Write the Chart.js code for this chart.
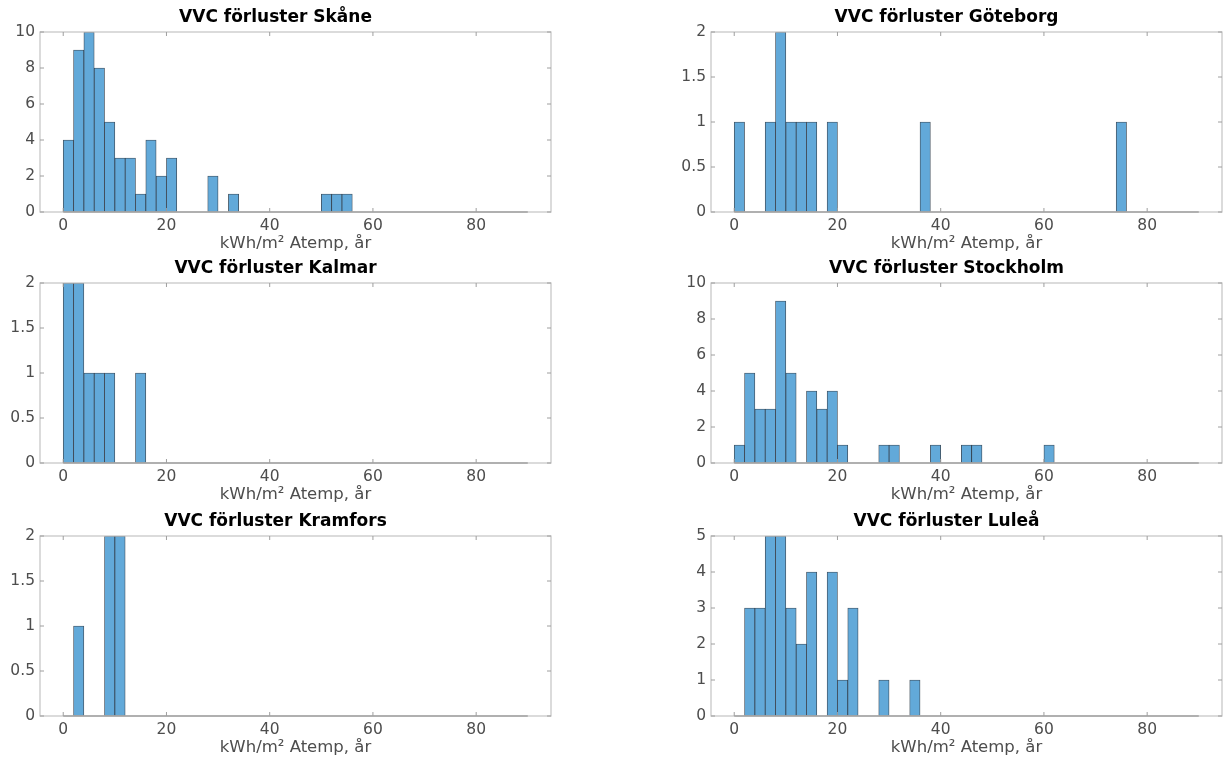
<!DOCTYPE html>
<html>
<head>
<meta charset="utf-8">
<script src="https://cdn.jsdelivr.net/npm/chart.js@4.4.0/dist/chart.umd.min.js"></script>
<style>
  body { margin: 0; background: #fff; width: 1227px; height: 762px; overflow: hidden; position: relative; }
  canvas { position: absolute; }
</style>
</head>
<body>
<canvas id="skane"></canvas>
<canvas id="goteborg"></canvas>
<canvas id="kalmar"></canvas>
<canvas id="stockholm"></canvas>
<canvas id="kramfors"></canvas>
<canvas id="lulea"></canvas>
<script>
// histogram bins, 2 kWh/m2 wide, left edges
const binStart = [0, 2, 4, 6, 8, 10, 12, 14, 16, 18, 20, 22, 24, 26, 28,
                  30, 32, 34, 36, 38, 40, 42, 44, 46, 48, 50, 52, 54, 56, 58,
                  60, 62, 64, 66, 68, 70, 72, 74, 76, 78, 80, 82, 84, 86, 88];
const binWidth = 2;

// number of buildings per bin
const skane     = [4, 9, 10, 8, 5, 3, 3, 1, 4, 2, 3, 0, 0, 0, 2,
                   0, 1, 0, 0, 0, 0, 0, 0, 0, 0, 1, 1, 1, 0, 0,
                   0, 0, 0, 0, 0, 0, 0, 0, 0, 0, 0, 0, 0, 0, 0];
const goteborg  = [1, 0, 0, 1, 2, 1, 1, 1, 0, 1, 0, 0, 0, 0, 0,
                   0, 0, 0, 1, 0, 0, 0, 0, 0, 0, 0, 0, 0, 0, 0,
                   0, 0, 0, 0, 0, 0, 0, 1, 0, 0, 0, 0, 0, 0, 0];
const kalmar    = [2, 2, 1, 1, 1, 0, 0, 1, 0, 0, 0, 0, 0, 0, 0,
                   0, 0, 0, 0, 0, 0, 0, 0, 0, 0, 0, 0, 0, 0, 0,
                   0, 0, 0, 0, 0, 0, 0, 0, 0, 0, 0, 0, 0, 0, 0];
const stockholm = [1, 5, 3, 3, 9, 5, 0, 4, 3, 4, 1, 0, 0, 0, 1,
                   1, 0, 0, 0, 1, 0, 0, 1, 1, 0, 0, 0, 0, 0, 0,
                   1, 0, 0, 0, 0, 0, 0, 0, 0, 0, 0, 0, 0, 0, 0];
const kramfors  = [0, 1, 0, 0, 2, 2, 0, 0, 0, 0, 0, 0, 0, 0, 0,
                   0, 0, 0, 0, 0, 0, 0, 0, 0, 0, 0, 0, 0, 0, 0,
                   0, 0, 0, 0, 0, 0, 0, 0, 0, 0, 0, 0, 0, 0, 0];
const lulea     = [0, 3, 3, 5, 5, 3, 2, 4, 0, 4, 1, 3, 0, 0, 1,
                   0, 0, 1, 0, 0, 0, 0, 0, 0, 0, 0, 0, 0, 0, 0,
                   0, 0, 0, 0, 0, 0, 0, 0, 0, 0, 0, 0, 0, 0, 0];

// tick labels
const xTicks = [0, 20, 40, 60, 80];
const yTicksTen = [0, 2, 4, 6, 8, 10];
const yTicksTwo = [0, 0.5, 1, 1.5, 2];
const yTicksFive = [0, 1, 2, 3, 4, 5];

const xLabel = 'kWh/m² Atemp, år';

const panels = [
  { id: 'skane',     title: 'VVC förluster Skåne',     counts: skane,     yTicks: yTicksTen,  left: 40,  top: 32 },
  { id: 'goteborg',  title: 'VVC förluster Göteborg',  counts: goteborg,  yTicks: yTicksTwo,  left: 711, top: 32 },
  { id: 'kalmar',    title: 'VVC förluster Kalmar',    counts: kalmar,    yTicks: yTicksTwo,  left: 40,  top: 283 },
  { id: 'stockholm', title: 'VVC förluster Stockholm', counts: stockholm, yTicks: yTicksTen,  left: 711, top: 283 },
  { id: 'kramfors',  title: 'VVC förluster Kramfors',  counts: kramfors,  yTicks: yTicksTwo,  left: 40,  top: 536 },
  { id: 'lulea',     title: 'VVC förluster Luleå',     counts: lulea,     yTicks: yTicksFive, left: 711, top: 536 }
];

const font = 'DejaVu Sans';

// box around the axes with small inward ticks on all four sides,
// plus the zero line under the empty bins
const axesBox = {
  id: 'axesBox',
  afterDatasetsDraw(chart) {
    const { ctx, chartArea: { left, right, top, bottom }, scales: { x, y } } = chart;
    ctx.save();
    ctx.strokeStyle = '#c4c4c4';
    ctx.lineWidth = 1.2;
    ctx.strokeRect(left, top, right - left, bottom - top);

    ctx.strokeStyle = '#9e9e9e';
    ctx.lineWidth = 1;
    ctx.beginPath();
    x.ticks.forEach(t => {
      const px = x.getPixelForValue(t.value);
      ctx.moveTo(px, bottom); ctx.lineTo(px, bottom - 4);
      ctx.moveTo(px, top); ctx.lineTo(px, top + 4);
    });
    y.ticks.forEach(t => {
      const py = y.getPixelForValue(t.value);
      ctx.moveTo(left, py); ctx.lineTo(left + 4, py);
      ctx.moveTo(right, py); ctx.lineTo(right - 4, py);
    });
    ctx.stroke();

    ctx.strokeStyle = '#a2a2a2';
    ctx.lineWidth = 1.6;
    ctx.beginPath();
    ctx.moveTo(x.getPixelForValue(binStart[0]), y.getPixelForValue(0));
    ctx.lineTo(x.getPixelForValue(binStart[binStart.length - 1] + binWidth), y.getPixelForValue(0));
    ctx.stroke();
    ctx.restore();
  }
};

const drawHistogram = (p) => {
  const canvas = document.getElementById(p.id);
  canvas.width = 555;
  canvas.height = 257;
  canvas.style.left = (p.left - 40) + 'px';
  canvas.style.top = (p.top - 32) + 'px';

  new Chart(canvas, {
    type: 'bar',
    data: {
      datasets: [{
        data: binStart.map((b, i) => ({ x: b + binWidth / 2, y: p.counts[i] })),
        backgroundColor: '#62a9d9',
        borderColor: 'rgba(28, 42, 56, 0.85)',
        borderWidth: 0.8,
        borderSkipped: false,
        barPercentage: 1,
        categoryPercentage: 1
      }]
    },
    options: {
      responsive: false,
      animation: false,
      devicePixelRatio: 1,
      layout: { padding: { left: 0, right: 4, top: 0, bottom: 0 } },
      plugins: {
        legend: { display: false },
        tooltip: { enabled: false },
        title: {
          display: true,
          text: p.title,
          color: '#000',
          font: { family: font, size: 17, weight: 'bold' },
          padding: { top: 7, bottom: 4.6 }
        }
      },
      scales: {
        x: {
          type: 'linear',
          offset: false,
          min: -4.5,
          max: 94.5,
          grid: { display: false, drawTicks: false },
          border: { display: false },
          afterBuildTicks: s => { s.ticks = xTicks.map(v => ({ value: v })); },
          afterFit: s => { s.height = 45; },
          ticks: {
            color: '#4d4d4d',
            font: { family: font, size: 15.5 },
            padding: 5,
            maxRotation: 0,
            autoSkip: false
          },
          title: {
            display: true,
            text: xLabel,
            color: '#4d4d4d',
            font: { family: font, size: 16.5 },
            padding: { top: 0, bottom: 3 }
          }
        },
        y: {
          min: 0,
          max: p.yTicks[p.yTicks.length - 1],
          grid: { display: false, drawTicks: false },
          border: { display: false },
          afterBuildTicks: s => { s.ticks = p.yTicks.map(v => ({ value: v })); },
          afterFit: s => { s.width = 40; },
          ticks: {
            color: '#4d4d4d',
            font: { family: font, size: 15.5 },
            padding: 5,
            callback: v => String(v)
          }
        }
      }
    },
    plugins: [axesBox]
  });
};

panels.forEach(drawHistogram);
</script>
</body>
</html>
